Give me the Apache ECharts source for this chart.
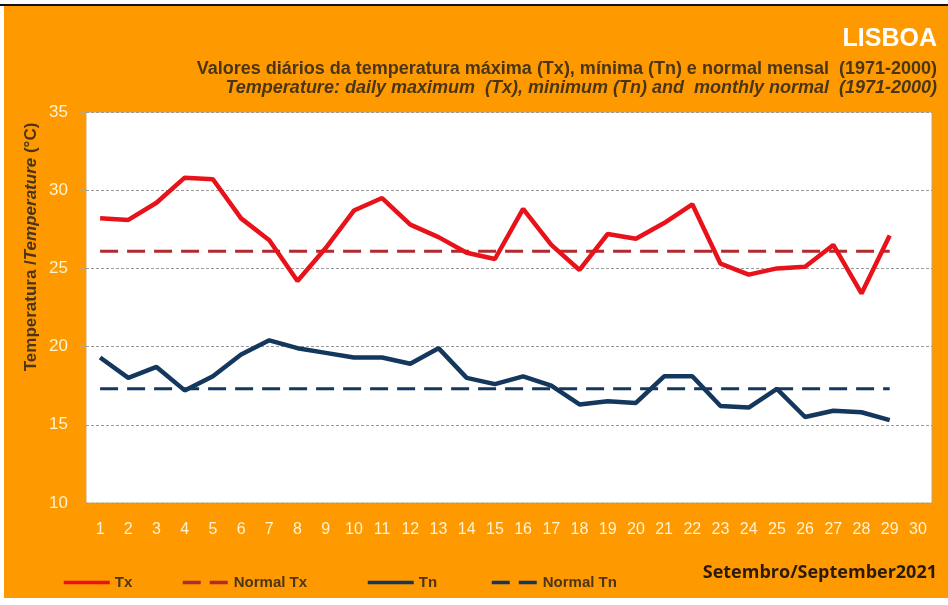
<!DOCTYPE html>
<html>
<head>
<meta charset="utf-8">
<script src="https://cdn.jsdelivr.net/npm/echarts@6/dist/echarts.min.js"></script>
<style>
  html, body { margin: 0; padding: 0; background: #fff; }
  #frame { position: absolute; left: 4px; top: 6px; width: 944px; height: 592px; background: #ff9900; }
  #topline { position: absolute; left: 0; top: 4px; width: 948px; height: 2px; background: #111; }
  #chart { position: absolute; left: 0; top: 0; width: 948px; height: 605px; }
</style>
</head>
<body>
<div id="frame"></div>
<div id="topline"></div>
<div id="chart"></div>
<script>
// Setembro 2021, Lisboa
const days = ['1','2','3','4','5','6','7','8','9','10','11','12','13','14','15',
  '16','17','18','19','20','21','22','23','24','25','26','27','28','29','30'];
const tx = [28.2, 28.1, 29.2, 30.8, 30.7, 28.2, 26.8, 24.2, 26.3, 28.7,
  29.5, 27.8, 27.0, 26.0, 25.6, 28.8, 26.5, 24.9, 27.2, 26.9,
  27.9, 29.1, 25.3, 24.6, 25.0, 25.1, 26.5, 23.4, 27.1];
const tn = [19.3, 18.0, 18.7, 17.2, 18.1, 19.5, 20.4, 19.9, 19.6, 19.3,
  19.3, 18.9, 19.9, 18.0, 17.6, 18.1, 17.5, 16.3, 16.5, 16.4,
  18.1, 18.1, 16.2, 16.1, 17.3, 15.5, 15.9, 15.8, 15.3];
const normalTx = 26.1;
const normalTn = 17.3;
const yTicks = [10, 15, 20, 25, 30, 35];

const sans = "'Liberation Sans', Arial, sans-serif";
const brown = '#4a3517';
const cream = '#fff3d0';
const red = '#e8121a';
const darkRed = '#b02a30';
const navy = '#14375e';

const chart = echarts.init(document.getElementById('chart'));

// one legend per entry so each can sit where the original has it
const legendAt = (name, left) => ({
  data: [name], left: left, top: 570,
  itemWidth: 46, itemHeight: 14,
  itemStyle: { opacity: 0 },
  lineStyle: { width: 3.5 },
  textStyle: { color: brown, fontSize: 15, fontWeight: 'bold', fontFamily: sans }
});

const option = {
  animation: false,
  title: [
    {
      text: 'LISBOA', right: 6, top: 22,
      textStyle: { color: '#fff', fontSize: 25, fontWeight: 'bold', fontFamily: sans }
    },
    {
      text: 'Valores diários da temperatura máxima (Tx), mínima (Tn) e normal mensal  (1971-2000)',
      right: 6, top: 55,
      textStyle: { color: brown, fontSize: 18, fontWeight: 'bold', fontFamily: sans }
    },
    {
      text: 'Temperature: daily maximum  (Tx), minimum (Tn) and  monthly normal  (1971-2000)',
      right: 6, top: 74,
      textStyle: { color: brown, fontSize: 18, fontWeight: 'bold', fontStyle: 'italic', fontFamily: sans }
    },
    {
      text: 'Setembro/September2021', right: 6, top: 559,
      textStyle: { color: '#2b1a08', fontSize: 18, fontWeight: 'bold', fontFamily: "'Open Sans', 'Liberation Sans', sans-serif" }
    }
  ],
  legend: [
    legendAt('Tx', 57),
    legendAt('Normal Tx', 176),
    legendAt('Tn', 361),
    legendAt('Normal Tn', 485)
  ],
  graphic: [
    {
      type: 'text', x: 31, y: 247, rotation: Math.PI / 2,
      style: {
        text: '{a|Temperatura /}{b|Temperature}{a| (°C)}',
        align: 'center', verticalAlign: 'middle',
        rich: {
          a: { fill: brown, fontSize: 17, fontWeight: 'bold', fontFamily: sans },
          b: { fill: brown, fontSize: 17, fontWeight: 'bold', fontStyle: 'italic', fontFamily: sans }
        }
      }
    }
  ],
  grid: {
    left: 86, right: 16, top: 112, bottom: 102,
    show: true, backgroundColor: '#fff', borderColor: '#c9a46a', borderWidth: 1
  },
  xAxis: {
    type: 'category',
    data: days,
    boundaryGap: true,
    axisLine: { show: false },
    axisTick: { show: false },
    axisLabel: { color: cream, fontSize: 16, margin: 19, fontFamily: sans }
  },
  yAxis: {
    type: 'value',
    min: yTicks[0], max: yTicks[yTicks.length - 1], interval: 5,
    axisLine: { show: false },
    axisTick: { show: true, length: 6, lineStyle: { color: '#c9a46a' } },
    axisLabel: { color: cream, fontSize: 17, margin: 18, fontFamily: sans },
    splitLine: { show: true, lineStyle: { color: '#9a9a9a', type: [3, 2], width: 1 } }
  },
  series: [
    {
      name: 'Tx', type: 'line', data: tx, symbol: 'none', z: 4,
      lineStyle: { color: red, width: 4.5 }, itemStyle: { color: red }
    },
    {
      name: 'Normal Tx', type: 'line', symbol: 'none', z: 3,
      data: [[days[0], normalTx], [days[tx.length - 1], normalTx]],
      lineStyle: { color: darkRed, width: 3, type: [18, 9] }, itemStyle: { color: darkRed }
    },
    {
      name: 'Tn', type: 'line', data: tn, symbol: 'none', z: 4,
      lineStyle: { color: navy, width: 4.5 }, itemStyle: { color: navy }
    },
    {
      name: 'Normal Tn', type: 'line', symbol: 'none', z: 3,
      data: [[days[0], normalTn], [days[tn.length - 1], normalTn]],
      lineStyle: { color: navy, width: 3, type: [18, 9] }, itemStyle: { color: navy }
    }
  ]
};

chart.setOption(option);
</script>
</body>
</html>
